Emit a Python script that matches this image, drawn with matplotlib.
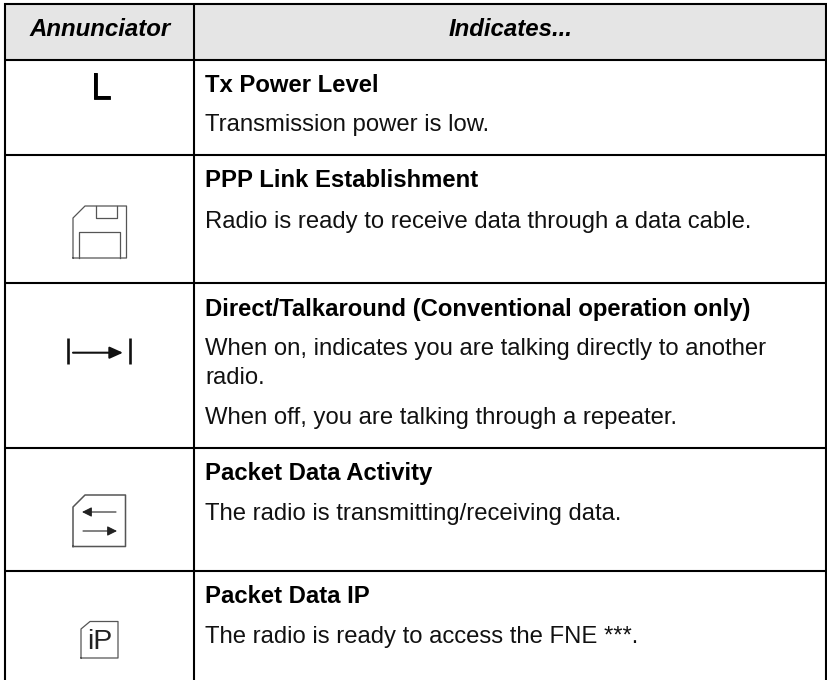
import matplotlib
matplotlib.use('Agg')
import matplotlib.pyplot as plt
from matplotlib.patches import Rectangle
import matplotlib.patheffects as pe

plt.rcParams['font.family'] = ['Liberation Sans', 'DejaVu Sans']

headers = ["Annunciator", "Indicates..."]
titles = ["Tx Power Level", "PPP Link Establishment",
          "Direct/Talkaround (Conventional operation only)",
          "Packet Data Activity", "Packet Data IP"]
title_y = [92, 187, 316, 480, 603]
body_lines = [
    ("Transmission power is low.", 131.5),
    ("Radio is ready to receive data through a data cable.", 228),
    ("When on, indicates you are talking directly to another", 355),
    ("radio.", 384),
    ("When off, you are talking through a repeater.", 424),
    ("The radio is transmitting/receiving data.", 520),
    ("The radio is ready to access the FNE ***.", 643),
]
row_lines = [60, 155, 283, 448, 570.5]

fig = plt.figure(figsize=(8.27, 6.80), dpi=100)
ax = fig.add_axes([0, 0, 1, 1])
ax.set_xlim(0, 827)
ax.set_ylim(680, 0)
ax.axis('off')

# Header band
ax.add_patch(Rectangle((5, 4), 821, 56, facecolor='#e5e5e5', edgecolor='none'))

# Table rules
for x in [5, 193.5, 826]:
    ax.plot([x, x], [3, 680], color='k', lw=1.5, solid_capstyle='butt')
for y in [4] + row_lines:
    ax.plot([4, 827], [y, y], color='k', lw=1.5, solid_capstyle='butt')

# Header text
ax.text(100, 36, headers[0], ha='center', va='baseline', fontsize=17.3, weight='bold', style='italic')
ax.text(511, 36, headers[1], ha='center', va='baseline', fontsize=17.3, weight='bold', style='italic')

# Row text
for t, y in zip(titles, title_y):
    ax.text(205, y, t, ha='left', va='baseline', fontsize=17.2, weight='bold')
for t, y in body_lines:
    ax.text(205, y, t, ha='left', va='baseline', fontsize=17.2, color='#111111')

# L icon
ax.text(90.5, 99, "L", ha='left', va='baseline', fontsize=27.5, color='k',
        path_effects=[pe.withStroke(linewidth=0.6, foreground='k')])

# Floppy icon
g = '#555555'
ax.plot([73, 73, 85, 126.5, 126.5, 73], [258, 218, 206, 206, 258, 258], color=g, lw=0.9)
ax.plot([95.5, 95.5, 116.5, 116.5], [206, 218, 218, 206], color=g, lw=0.9)
ax.plot([79, 79, 119.5, 119.5], [258, 231.5, 231.5, 258], color=g, lw=0.9)

# Direct icon
ax.plot([68, 68], [338, 364], color='#111111', lw=1.9, solid_capstyle='butt')
ax.plot([130, 130], [338, 364], color='#111111', lw=1.9, solid_capstyle='butt')
ax.annotate('', xy=(123, 352.7), xytext=(73, 352.7),
            arrowprops=dict(arrowstyle='-|>,head_length=0.8,head_width=0.36', color='#111111', lw=1.5,
                            mutation_scale=10, shrinkA=0, shrinkB=0))

# Packet activity icon
ax.plot([73, 73, 85, 125.5, 125.5, 73], [546.5, 507, 495, 495, 546.5, 546.5], color=g, lw=1.1)
ax.annotate('', xy=(82, 512), xytext=(116, 512),
            arrowprops=dict(arrowstyle='-|>,head_length=0.58,head_width=0.29', color='#222222', lw=0.8,
                            mutation_scale=10, shrinkA=0, shrinkB=0))
ax.annotate('', xy=(117, 531), xytext=(83, 531),
            arrowprops=dict(arrowstyle='-|>,head_length=0.58,head_width=0.29', color='#222222', lw=0.8,
                            mutation_scale=10, shrinkA=0, shrinkB=0))

# iP icon
ax.plot([81, 81, 90, 118, 118, 81], [658, 629, 621.5, 621.5, 658, 658], color=g, lw=0.9)
ax.text(87, 649, "iP", ha='left', va='baseline', fontsize=20.5, color='#222222')

fig.savefig('out.png', dpi=100)
